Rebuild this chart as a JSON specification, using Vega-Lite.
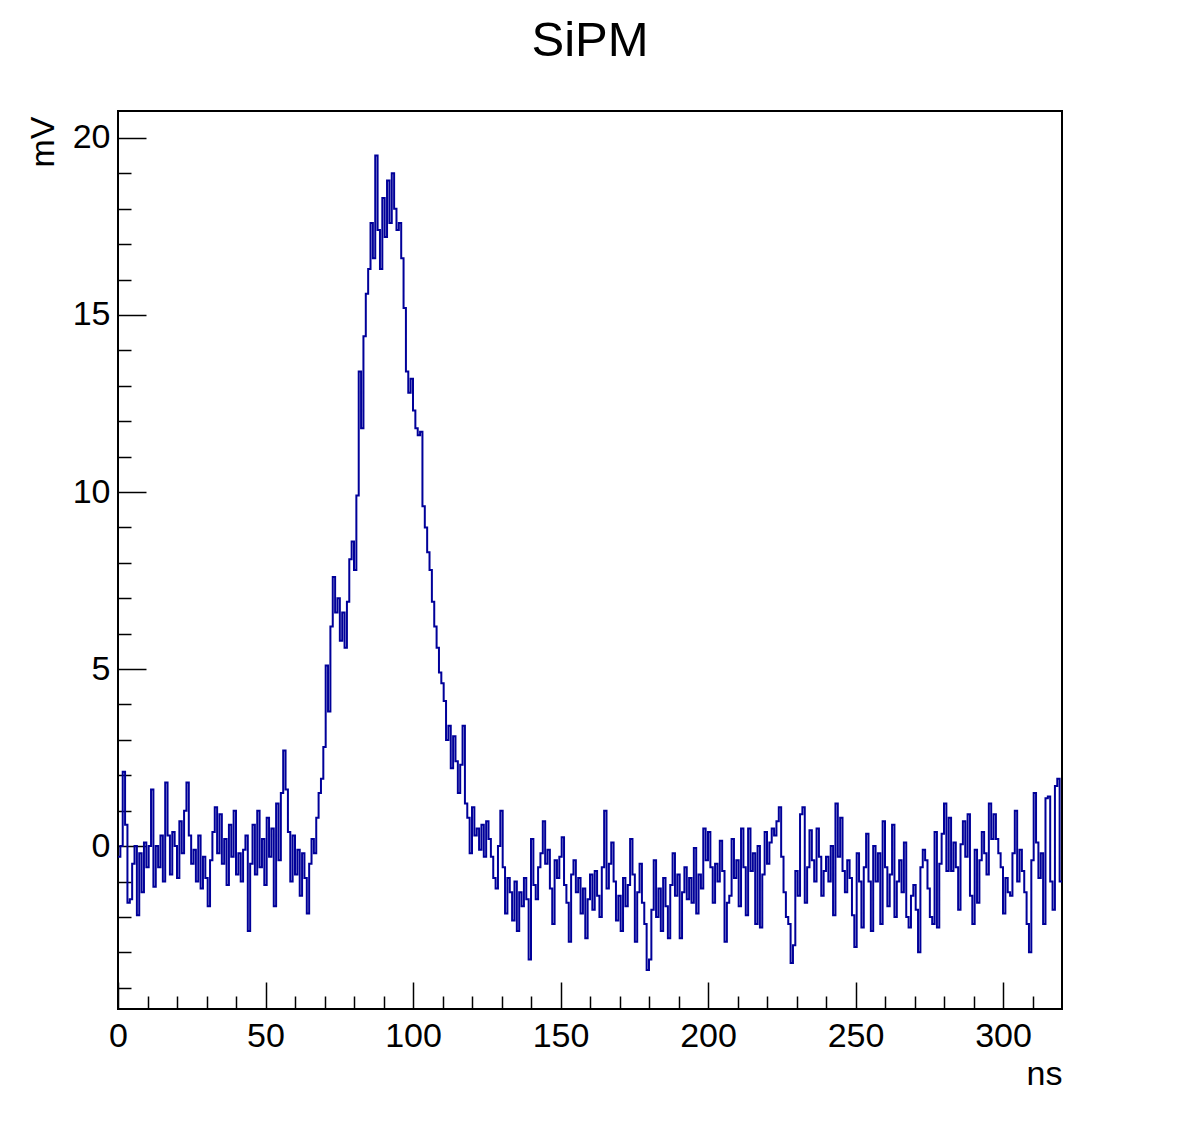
{
  "$schema": "https://vega.github.io/schema/vega-lite/v6.json",
  "width": 944,
  "height": 898,
  "autosize": {"type": "none"},
  "padding": {"left": 118, "top": 111, "right": 120, "bottom": 114},
  "background": "white",
  "title": {"text": "SiPM", "font": "Liberation Sans", "fontSize": 49, "fontWeight": "normal", "color": "black", "anchor": "middle", "baseline": "alphabetic", "offset": 6},
  "config": {
    "view": {"stroke": "black", "strokeWidth": 2},
    "axis": {"grid": false, "domain": false, "labelFont": "Liberation Sans", "titleFont": "Liberation Sans", "labelColor": "black", "titleColor": "black", "tickColor": "black", "titleFontWeight": "normal", "labelFlush": false, "labelOverlap": false}
  },
  "data": {"values": [
    {"t":0,"v":-0.3},{"t":0.8,"v":0.0},{"t":1.6,"v":2.1},{"t":2.4,"v":0.6},{"t":3.2,"v":-1.6},
    {"t":4,"v":-1.5},{"t":4.8,"v":-0.5},{"t":5.6,"v":0.0},{"t":6.4,"v":-1.95},{"t":7.2,"v":-0.2},
    {"t":8,"v":-1.3},{"t":8.8,"v":0.1},{"t":9.6,"v":-0.6},{"t":10.4,"v":0.0},{"t":11.2,"v":1.6},
    {"t":12,"v":-1.15},{"t":12.8,"v":0.0},{"t":13.6,"v":-0.6},{"t":14.4,"v":0.3},{"t":15.2,"v":-1.0},
    {"t":16,"v":1.8},{"t":16.8,"v":0.3},{"t":17.6,"v":-0.8},{"t":18.4,"v":0.4},{"t":19.2,"v":0.0},
    {"t":20,"v":-0.9},{"t":20.8,"v":0.7},{"t":21.6,"v":-0.2},{"t":22.4,"v":1.0},{"t":23.2,"v":1.8},
    {"t":24,"v":0.3},{"t":24.8,"v":-0.5},{"t":25.6,"v":-0.1},{"t":26.4,"v":-1.0},{"t":27.2,"v":0.3},
    {"t":28,"v":-1.2},{"t":28.8,"v":-0.3},{"t":29.6,"v":-0.9},{"t":30.4,"v":-1.7},{"t":31.2,"v":-0.4},
    {"t":32,"v":0.4},{"t":32.8,"v":1.1},{"t":33.6,"v":-0.2},{"t":34.4,"v":0.9},{"t":35.2,"v":-0.5},
    {"t":36,"v":0.2},{"t":36.8,"v":-1.1},{"t":37.6,"v":0.6},{"t":38.4,"v":-0.3},{"t":39.2,"v":1.0},
    {"t":40,"v":-0.8},{"t":40.8,"v":-0.2},{"t":41.6,"v":-1.0},{"t":42.4,"v":-0.1},{"t":43.2,"v":0.3},
    {"t":44,"v":-2.4},{"t":44.8,"v":-0.5},{"t":45.6,"v":0.6},{"t":46.4,"v":-0.8},{"t":47.2,"v":1.0},
    {"t":48,"v":-0.6},{"t":48.8,"v":0.2},{"t":49.6,"v":-1.1},{"t":50.4,"v":0.8},{"t":51.2,"v":-0.3},
    {"t":52,"v":0.5},{"t":52.8,"v":-1.7},{"t":53.6,"v":1.2},{"t":54.4,"v":-0.4},{"t":55.2,"v":1.5},
    {"t":56,"v":2.7},{"t":56.8,"v":1.6},{"t":57.6,"v":0.4},{"t":58.4,"v":-1.0},{"t":59.2,"v":0.3},
    {"t":60,"v":-0.8},{"t":60.8,"v":-0.1},{"t":61.6,"v":-1.4},{"t":62.4,"v":-0.2},{"t":63.2,"v":-0.9},
    {"t":64,"v":-1.9},{"t":64.8,"v":-0.5},{"t":65.6,"v":0.2},{"t":66.4,"v":-0.2},{"t":67.2,"v":0.8},
    {"t":68,"v":1.5},{"t":68.8,"v":1.9},{"t":69.6,"v":2.8},{"t":70.4,"v":5.1},{"t":71.2,"v":3.8},
    {"t":72,"v":6.2},{"t":72.8,"v":7.6},{"t":73.6,"v":6.6},{"t":74.4,"v":7.0},{"t":75.2,"v":5.8},
    {"t":76,"v":6.6},{"t":76.8,"v":5.6},{"t":77.6,"v":6.9},{"t":78.4,"v":8.1},{"t":79.2,"v":8.6},
    {"t":80,"v":7.8},{"t":80.8,"v":9.9},{"t":81.6,"v":13.4},{"t":82.4,"v":11.8},{"t":83.2,"v":14.4},
    {"t":84,"v":15.6},{"t":84.8,"v":16.3},{"t":85.6,"v":17.6},{"t":86.4,"v":16.6},{"t":87.2,"v":19.5},
    {"t":88,"v":17.4},{"t":88.8,"v":16.3},{"t":89.6,"v":18.3},{"t":90.4,"v":17.2},{"t":91.2,"v":18.8},
    {"t":92,"v":17.6},{"t":92.8,"v":19.0},{"t":93.6,"v":18.0},{"t":94.4,"v":17.4},{"t":95.2,"v":17.6},
    {"t":96,"v":16.6},{"t":96.8,"v":15.2},{"t":97.6,"v":13.4},{"t":98.4,"v":12.8},{"t":99.2,"v":13.2},
    {"t":100,"v":12.3},{"t":100.8,"v":11.8},{"t":101.6,"v":11.6},{"t":102.4,"v":11.7},{"t":103.2,"v":9.6},
    {"t":104,"v":9.0},{"t":104.8,"v":8.3},{"t":105.6,"v":7.8},{"t":106.4,"v":6.9},{"t":107.2,"v":6.2},
    {"t":108,"v":5.6},{"t":108.8,"v":4.9},{"t":109.6,"v":4.6},{"t":110.4,"v":4.1},{"t":111.2,"v":3.0},
    {"t":112,"v":3.4},{"t":112.8,"v":2.2},{"t":113.6,"v":3.1},{"t":114.4,"v":2.4},{"t":115.2,"v":1.5},
    {"t":116,"v":2.3},{"t":116.8,"v":3.4},{"t":117.6,"v":1.2},{"t":118.4,"v":0.8},{"t":119.2,"v":-0.2},
    {"t":120,"v":1.1},{"t":120.8,"v":0.3},{"t":121.6,"v":0.5},{"t":122.4,"v":-0.1},{"t":123.2,"v":0.6},
    {"t":124,"v":-0.3},{"t":124.8,"v":0.7},{"t":125.6,"v":0.2},{"t":126.4,"v":-0.3},{"t":127.2,"v":-0.9},
    {"t":128,"v":-1.2},{"t":128.8,"v":0.0},{"t":129.6,"v":1.0},{"t":130.4,"v":-0.6},{"t":131.2,"v":-1.9},
    {"t":132,"v":-0.9},{"t":132.8,"v":-1.3},{"t":133.6,"v":-2.1},{"t":134.4,"v":-1.0},{"t":135.2,"v":-2.4},
    {"t":136,"v":-1.3},{"t":136.8,"v":-1.7},{"t":137.6,"v":-0.9},{"t":138.4,"v":-1.5},{"t":139.2,"v":-3.2},
    {"t":140,"v":0.2},{"t":140.8,"v":-1.1},{"t":141.6,"v":-1.5},{"t":142.4,"v":-0.6},{"t":143.2,"v":-0.2},
    {"t":144,"v":0.7},{"t":144.8,"v":-0.5},{"t":145.6,"v":-0.1},{"t":146.4,"v":-1.2},{"t":147.2,"v":-2.2},
    {"t":148,"v":-0.4},{"t":148.8,"v":-0.9},{"t":149.6,"v":-0.3},{"t":150.4,"v":0.25},{"t":151.2,"v":-1.1},
    {"t":152,"v":-1.6},{"t":152.8,"v":-2.7},{"t":153.6,"v":-0.8},{"t":154.4,"v":-0.4},{"t":155.2,"v":-1.3},
    {"t":156,"v":-0.9},{"t":156.8,"v":-1.9},{"t":157.6,"v":-1.2},{"t":158.4,"v":-2.6},{"t":159.2,"v":-1.5},
    {"t":160,"v":-0.8},{"t":160.8,"v":-1.8},{"t":161.6,"v":-0.7},{"t":162.4,"v":-1.4},{"t":163.2,"v":-2.0},
    {"t":164,"v":-0.6},{"t":164.8,"v":1.0},{"t":165.6,"v":-1.2},{"t":166.4,"v":-0.5},{"t":167.2,"v":0.1},
    {"t":168,"v":-1.0},{"t":168.8,"v":-2.1},{"t":169.6,"v":-1.4},{"t":170.4,"v":-2.4},{"t":171.2,"v":-0.9},
    {"t":172,"v":-1.7},{"t":172.8,"v":-1.1},{"t":173.6,"v":0.2},{"t":174.4,"v":-0.8},{"t":175.2,"v":-2.7},
    {"t":176,"v":-1.3},{"t":176.8,"v":-0.5},{"t":177.6,"v":-1.6},{"t":178.4,"v":-2.2},{"t":179.2,"v":-3.5},
    {"t":180,"v":-3.2},{"t":180.8,"v":-1.8},{"t":181.6,"v":-0.4},{"t":182.4,"v":-2.0},{"t":183.2,"v":-1.2},
    {"t":184,"v":-2.4},{"t":184.8,"v":-0.9},{"t":185.6,"v":-1.7},{"t":186.4,"v":-2.6},{"t":187.2,"v":-1.1},
    {"t":188,"v":-0.2},{"t":188.8,"v":-1.4},{"t":189.6,"v":-0.8},{"t":190.4,"v":-2.6},{"t":191.2,"v":-1.3},
    {"t":192,"v":-0.6},{"t":192.8,"v":-1.5},{"t":193.6,"v":-0.9},{"t":194.4,"v":-1.6},{"t":195.2,"v":-0.05},
    {"t":196,"v":-1.9},{"t":196.8,"v":-0.8},{"t":197.6,"v":-1.2},{"t":198.4,"v":0.5},{"t":199.2,"v":-0.4},
    {"t":200,"v":0.4},{"t":200.8,"v":-0.6},{"t":201.6,"v":-1.6},{"t":202.4,"v":-0.5},{"t":203.2,"v":-1.0},
    {"t":204,"v":0.15},{"t":204.8,"v":-0.7},{"t":205.6,"v":-2.7},{"t":206.4,"v":-1.6},{"t":207.2,"v":-1.4},
    {"t":208,"v":0.2},{"t":208.8,"v":-0.9},{"t":209.6,"v":-0.4},{"t":210.4,"v":-1.7},{"t":211.2,"v":0.5},
    {"t":212,"v":-0.6},{"t":212.8,"v":-1.95},{"t":213.6,"v":0.5},{"t":214.4,"v":-0.7},{"t":215.2,"v":-0.2},
    {"t":216,"v":-2.2},{"t":216.8,"v":0.0},{"t":217.6,"v":-2.3},{"t":218.4,"v":-0.8},{"t":219.2,"v":0.4},
    {"t":220,"v":-0.5},{"t":220.8,"v":0.1},{"t":221.6,"v":0.5},{"t":222.4,"v":0.3},{"t":223.2,"v":0.7},
    {"t":224,"v":1.1},{"t":224.8,"v":-0.3},{"t":225.6,"v":-1.3},{"t":226.4,"v":-2.0},{"t":227.2,"v":-2.2},
    {"t":228,"v":-3.3},{"t":228.8,"v":-2.8},{"t":229.6,"v":-0.7},{"t":230.4,"v":-1.4},{"t":231.2,"v":0.9},
    {"t":232,"v":1.1},{"t":232.8,"v":-1.6},{"t":233.6,"v":-0.6},{"t":234.4,"v":0.45},{"t":235.2,"v":-0.4},
    {"t":236,"v":-1.0},{"t":236.8,"v":0.5},{"t":237.6,"v":-0.3},{"t":238.4,"v":-1.4},{"t":239.2,"v":-0.7},
    {"t":240,"v":-0.3},{"t":240.8,"v":-1.0},{"t":241.6,"v":0.0},{"t":242.4,"v":-1.95},{"t":243.2,"v":1.2},
    {"t":244,"v":-0.3},{"t":244.8,"v":0.8},{"t":245.6,"v":-0.7},{"t":246.4,"v":-1.3},{"t":247.2,"v":-0.4},
    {"t":248,"v":-0.9},{"t":248.8,"v":-1.95},{"t":249.6,"v":-2.85},{"t":250.4,"v":-0.2},{"t":251.2,"v":-1.0},
    {"t":252,"v":-2.3},{"t":252.8,"v":-0.6},{"t":253.6,"v":0.35},{"t":254.4,"v":-1.0},{"t":255.2,"v":-2.4},
    {"t":256,"v":0.0},{"t":256.8,"v":-1.0},{"t":257.6,"v":-0.2},{"t":258.4,"v":-2.2},{"t":259.2,"v":0.7},
    {"t":260,"v":-0.6},{"t":260.8,"v":-1.7},{"t":261.6,"v":-0.8},{"t":262.4,"v":0.6},{"t":263.2,"v":-2.0},
    {"t":264,"v":-1.0},{"t":264.8,"v":-0.4},{"t":265.6,"v":-1.3},{"t":266.4,"v":0.1},{"t":267.2,"v":-2.0},
    {"t":268,"v":-2.3},{"t":268.8,"v":-1.4},{"t":269.6,"v":-1.1},{"t":270.4,"v":-1.8},{"t":271.2,"v":-3.0},
    {"t":272,"v":-0.6},{"t":272.8,"v":-0.1},{"t":273.6,"v":-0.4},{"t":274.4,"v":-1.2},{"t":275.2,"v":-2.0},
    {"t":276,"v":-2.2},{"t":276.8,"v":0.4},{"t":277.6,"v":-2.3},{"t":278.4,"v":-0.5},{"t":279.2,"v":0.35},
    {"t":280,"v":1.2},{"t":280.8,"v":-0.7},{"t":281.6,"v":0.8},{"t":282.4,"v":-0.7},{"t":283.2,"v":0.1},
    {"t":284,"v":-0.6},{"t":284.8,"v":-1.8},{"t":285.6,"v":0.05},{"t":286.4,"v":0.7},{"t":287.2,"v":-0.3},
    {"t":288,"v":0.9},{"t":288.8,"v":-1.4},{"t":289.6,"v":-2.2},{"t":290.4,"v":-0.1},{"t":291.2,"v":-1.6},
    {"t":292,"v":-0.4},{"t":292.8,"v":0.4},{"t":293.6,"v":-0.2},{"t":294.4,"v":-0.8},{"t":295.2,"v":1.2},
    {"t":296,"v":0.2},{"t":296.8,"v":0.9},{"t":297.6,"v":0.2},{"t":298.4,"v":-0.2},{"t":299.2,"v":-0.6},
    {"t":300,"v":-1.9},{"t":300.8,"v":-0.9},{"t":301.6,"v":-1.3},{"t":302.4,"v":-1.4},{"t":303.2,"v":-0.2},
    {"t":304,"v":1.0},{"t":304.8,"v":-1.0},{"t":305.6,"v":-0.1},{"t":306.4,"v":-0.7},{"t":307.2,"v":-1.3},
    {"t":308,"v":-2.2},{"t":308.8,"v":-3.0},{"t":309.6,"v":-0.4},{"t":310.4,"v":1.5},{"t":311.2,"v":0.1},
    {"t":312,"v":-0.9},{"t":312.8,"v":-0.2},{"t":313.6,"v":-2.2},{"t":314.4,"v":1.35},{"t":315.2,"v":1.4},
    {"t":316,"v":-1.0},{"t":316.8,"v":-1.8},{"t":317.6,"v":1.7},{"t":318.4,"v":1.9},{"t":319.2,"v":-1.0},
    {"t":320,"v":-1.0}
  ]},
  "layer": [
    {
      "mark": {"type": "line", "interpolate": "step-after", "color": "#000099", "strokeWidth": 2},
      "encoding": {
        "x": {
          "field": "t", "type": "quantitative",
          "scale": {"domain": [0, 320], "nice": false, "zero": false},
          "axis": {"orient": "bottom", "values": [0, 50, 100, 150, 200, 250, 300], "tickSize": -27, "tickWidth": 1.5,
                   "labelFontSize": 34, "labelPadding": 37, "labelAngle": 0,
                   "title": "ns", "titleFontSize": 34, "titleAnchor": "end", "titleAlign": "right", "titleBaseline": "alphabetic", "titleX": 944, "titleY": 75}
        },
        "y": {
          "field": "v", "type": "quantitative",
          "scale": {"domain": [-4.6, 20.76], "nice": false, "zero": false},
          "axis": {"orient": "left", "values": [0, 5, 10, 15, 20], "tickSize": -28, "tickWidth": 1.5,
                   "labelFontSize": 34, "labelPadding": 36, "labelBaseline": "middle",
                   "title": "mV", "titleFontSize": 34, "titleAngle": -90, "titleAlign": "right", "titleBaseline": "alphabetic", "titleX": -65, "titleY": 5}
        }
      }
    },
    {
      "mark": {"type": "point", "opacity": 0},
      "encoding": {
        "x": {
          "field": "t", "type": "quantitative",
          "scale": {"domain": [0, 320], "nice": false, "zero": false},
          "axis": {"orient": "bottom", "values": [10, 20, 30, 40, 60, 70, 80, 90, 110, 120, 130, 140, 160, 170, 180, 190, 210, 220, 230, 240, 260, 270, 280, 290, 310],
                   "tickSize": -13, "tickWidth": 1.5, "labels": false, "title": null}
        },
        "y": {
          "field": "v", "type": "quantitative",
          "scale": {"domain": [-4.6, 20.76], "nice": false, "zero": false},
          "axis": {"orient": "left", "values": [-4, -3, -2, -1, 1, 2, 3, 4, 6, 7, 8, 9, 11, 12, 13, 14, 16, 17, 18, 19],
                   "tickSize": -13, "tickWidth": 1.5, "labels": false, "title": null}
        }
      }
    }
  ],
  "resolve": {"axis": {"x": "independent", "y": "independent"}}
}
